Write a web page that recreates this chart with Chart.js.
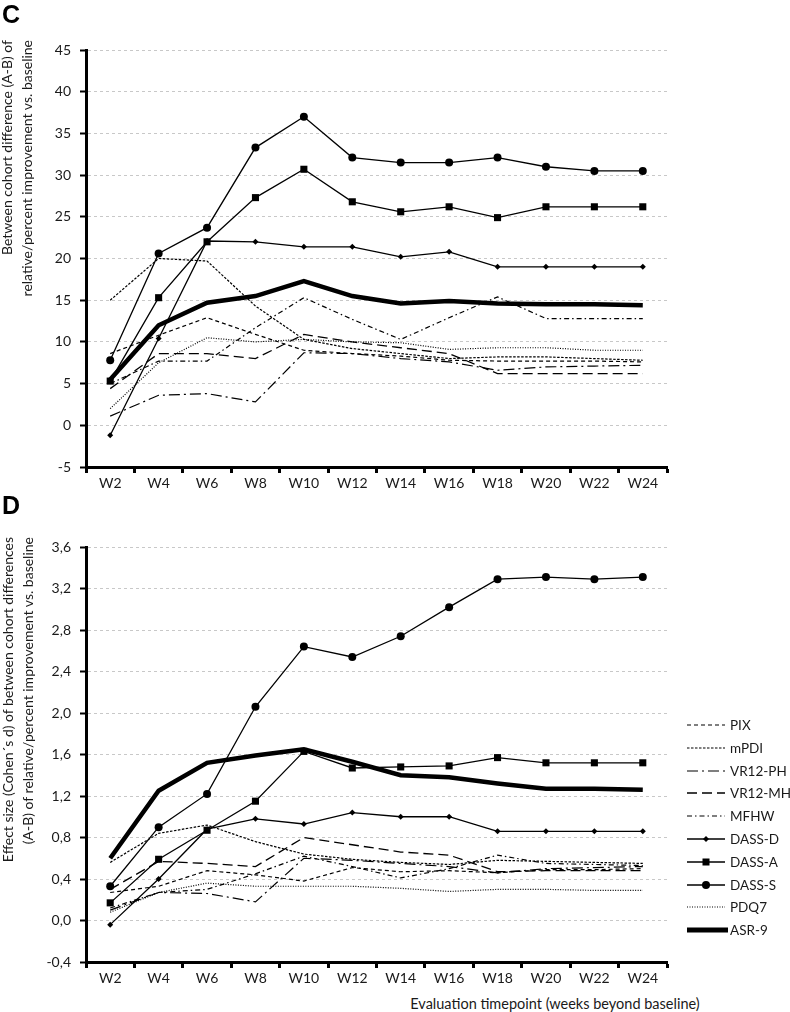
<!DOCTYPE html>
<html><head><meta charset="utf-8">
<script src="https://cdn.jsdelivr.net/npm/chart.js@4.4.0/dist/chart.umd.min.js"></script>
<style>
html,body{margin:0;padding:0;background:#fff;}
body{width:790px;height:1012px;position:relative;overflow:hidden;font-family:Lato,'Open Sans',sans-serif;color:#1a1a1a;}
.panel{position:absolute;left:0;width:790px;height:495px;}
canvas{position:absolute;left:0;top:0;}
.lab{position:absolute;left:2px;font:bold 25px 'Liberation Sans',Arial,sans-serif;color:#000;line-height:25px;}
.ytitle{position:absolute;width:420px;transform-origin:0 0;transform:rotate(-90deg);white-space:nowrap;font-size:14px;line-height:20px;text-align:right;}
.xtitle{position:absolute;left:355px;width:400px;text-align:center;font-size:14.5px;top:995px;line-height:18px;}
.leg{position:absolute;left:686px;height:20px;line-height:20px;font-size:13.5px;white-space:nowrap;}
.leg svg{position:absolute;left:0;top:3px;}
.leg span{position:absolute;left:44px;top:0;}
</style>
</head><body>
<div class="panel" style="top:0"><canvas id="chartC" width="790" height="495"></canvas></div>
<div class="panel" style="top:495px"><canvas id="chartD" width="790" height="495"></canvas></div>
<div class="lab" style="top:2px">C</div>
<div class="lab" style="top:493px">D</div>
<div class="ytitle" style="left:-3px;top:460px">Between cohort difference (A-B) of<br>relative/percent improvement vs. baseline</div>
<div class="ytitle" style="left:-2px;top:957px">Effect size (Cohen´s d) of between cohort differences<br>(A-B) of relative/percent improvement vs. baseline</div>
<div class="xtitle">Evaluation timepoint (weeks beyond baseline)</div>
<div id="legend"></div>
<script>
// ---- data ----
const weeks = ['W2','W4','W6','W8','W10','W12','W14','W16','W18','W20','W22','W24'];
const seriesNames = ['PIX','mPDI','VR12-PH','VR12-MH','MFHW','DASS-D','DASS-A','DASS-S','PDQ7','ASR-9'];
const yTickLabelsC = ['-5','0','5','10','15','20','25','30','35','40','45'];
const yTickLabelsD = ['-0,4','0,0','0,4','0,8','1,2','1,6','2,0','2,4','2,8','3,2','3,6'];

// Panel C: between cohort difference (%)
const pixC    = [8.6, 10.8, 12.9, 10.9, 9.0, 8.6, 8.3, 7.8, 7.7, 7.7, 7.7, 7.6];
const mpdiC   = [15.0, 20.0, 19.7, 14.3, 10.3, 9.2, 8.6, 8.0, 8.2, 8.2, 8.0, 7.8];
const vr12phC = [1.1, 3.6, 3.8, 2.8, 8.7, 8.6, 8.0, 7.6, 6.6, 7.0, 7.1, 7.2];
const vr12mhC = [4.4, 8.6, 8.6, 8.0, 10.9, 10.0, 9.3, 8.6, 6.2, 6.2, 6.2, 6.2];
const mfhwC   = [5.0, 7.7, 7.7, 11.7, 15.3, 12.7, 10.3, 12.9, 15.4, 12.8, 12.8, 12.8];
const dassDC  = [-1.2, 10.4, 22.1, 22.0, 21.4, 21.4, 20.2, 20.8, 19.0, 19.0, 19.0, 19.0];
const dassAC  = [5.3, 15.3, 22.0, 27.3, 30.7, 26.8, 25.6, 26.2, 24.9, 26.2, 26.2, 26.2];
const dassSC  = [7.8, 20.6, 23.7, 33.3, 37.0, 32.1, 31.5, 31.5, 32.1, 31.0, 30.5, 30.5];
const pdq7C   = [2.0, 7.5, 10.5, 10.0, 10.3, 10.0, 9.9, 9.1, 9.3, 9.3, 9.0, 9.0];
const asr9C   = [5.5, 12.0, 14.7, 15.5, 17.3, 15.5, 14.6, 14.9, 14.6, 14.5, 14.5, 14.4];

// Panel D: effect size (Cohen's d)
const pixD    = [0.27, 0.33, 0.48, 0.44, 0.38, 0.51, 0.47, 0.48, 0.46, 0.49, 0.49, 0.50];
const mpdiD   = [0.56, 0.84, 0.92, 0.76, 0.64, 0.59, 0.56, 0.54, 0.58, 0.57, 0.56, 0.55];
const vr12phD = [0.10, 0.27, 0.26, 0.18, 0.60, 0.58, 0.55, 0.52, 0.46, 0.50, 0.51, 0.52];
const vr12mhD = [0.30, 0.57, 0.55, 0.52, 0.80, 0.73, 0.66, 0.63, 0.47, 0.48, 0.48, 0.48];
const mfhwD   = [0.12, 0.27, 0.30, 0.45, 0.62, 0.52, 0.41, 0.50, 0.63, 0.55, 0.54, 0.53];
const dassDD  = [-0.04, 0.40, 0.88, 0.98, 0.93, 1.04, 1.00, 1.00, 0.86, 0.86, 0.86, 0.86];
const dassAD  = [0.17, 0.59, 0.87, 1.15, 1.63, 1.47, 1.48, 1.49, 1.57, 1.52, 1.52, 1.52];
const dassSD  = [0.33, 0.90, 1.22, 2.06, 2.64, 2.54, 2.74, 3.02, 3.29, 3.31, 3.29, 3.31];
const pdq7D   = [0.08, 0.27, 0.36, 0.33, 0.33, 0.33, 0.31, 0.28, 0.30, 0.30, 0.29, 0.29];
const asr9D   = [0.60, 1.25, 1.52, 1.59, 1.65, 1.53, 1.40, 1.38, 1.32, 1.27, 1.27, 1.26];

const dataC = [pixC, mpdiC, vr12phC, vr12mhC, mfhwC, dassDC, dassAC, dassSC, pdq7C, asr9C];
const dataD = [pixD, mpdiD, vr12phD, vr12mhD, mfhwD, dassDD, dassAD, dassSD, pdq7D, asr9D];

// ---- styles ----
const styles = {
  'PIX':     {dash:[4,3], w:1.2},
  'mPDI':    {dash:[2.5,1.5], w:1.2},
  'VR12-PH': {dash:[11,4,2,4], w:1.2},
  'VR12-MH': {dash:[10,5], w:1.3},
  'MFHW':    {dash:[5,3,1.5,3], w:1.2},
  'DASS-D':  {dash:[], w:1.3, pt:'rectRot', r:3},
  'DASS-A':  {dash:[], w:1.3, pt:'rect', r:5},
  'DASS-S':  {dash:[], w:1.3, pt:'circle', r:4},
  'PDQ7':    {dash:[1,1.5], w:1.2},
  'ASR-9':   {dash:[], w:4.5}
};

Chart.defaults.font.family = "Lato, 'Open Sans', sans-serif";
Chart.defaults.font.size = 14;
Chart.defaults.color = '#1a1a1a';

function makeChart(id, series, tickLabels, topPad) {
  const tickVals = tickLabels.map(s => parseFloat(s.replace(',', '.')));
  const datasets = seriesNames.map((name, i) => {
    const st = styles[name];
    return {
      label: name, data: series[i],
      borderColor: '#000', backgroundColor: '#000',
      borderWidth: st.w, borderDash: st.dash,
      pointRadius: st.pt ? st.r : 0, pointHoverRadius: 0,
      pointStyle: st.pt || 'circle', pointBorderWidth: 0,
      pointBackgroundColor: '#000',
      tension: 0, fill: false,
      borderCapStyle: 'butt', borderJoinStyle: 'miter'
    };
  });
  return new Chart(document.getElementById(id), {
    type: 'line',
    data: {labels: weeks, datasets},
    options: {
      responsive: false, animation: false, devicePixelRatio: 1,
      layout: {padding: {left: 0, top: topPad, right: 123, bottom: 0}},
      plugins: {legend: {display: false}, tooltip: {enabled: false}},
      events: [],
      scales: {
        x: {
          offset: true,
          grid: {offset: true, drawOnChartArea: false, drawTicks: true, tickLength: 6, tickColor: '#000', tickWidth: 3},
          border: {display: true, color: '#000', width: 3},
          ticks: {padding: 2, maxRotation: 0, autoSkip: false, color: '#1a1a1a'},
          afterFit: s => { s.height = 28; }
        },
        y: {
          min: tickVals[0], max: tickVals[tickVals.length - 1],
          afterBuildTicks: s => { s.ticks = tickVals.map(v => ({value: v})); },
          ticks: {callback: (v, i) => tickLabels[i], padding: 9, color: '#1a1a1a'},
          grid: {color: '#c8c8c8', lineWidth: 1, tickLength: 6, tickColor: '#000', tickWidth: 2},
          border: {display: true, color: '#000', width: 3, dash: [3, 3]},
          afterFit: s => { s.width = 86; }
        }
      }
    }
  });
}

makeChart('chartC', dataC, yTickLabelsC, 50);
makeChart('chartD', dataD, yTickLabelsD, 52);

// ---- legend (HTML) ----
const legend = document.getElementById('legend');
seriesNames.forEach((name, i) => {
  const st = styles[name];
  const row = document.createElement('div');
  row.className = 'leg';
  row.style.top = (715 + i * 22.8) + 'px';
  let marker = '';
  if (st.pt === 'circle') marker = '<circle cx="20" cy="7" r="4" fill="#000"/>';
  if (st.pt === 'rect') marker = '<rect x="16.5" y="3.5" width="7" height="7" fill="#000"/>';
  if (st.pt === 'rectRot') marker = '<polygon points="20,4 23,7 20,10 17,7" fill="#000"/>';
  const len = name === 'ASR-9' ? 42 : 39;
  row.innerHTML = '<svg width="44" height="14"><line x1="1" y1="7" x2="' + len + '" y2="7" stroke="#000" stroke-width="' +
    (name === 'ASR-9' ? 5 : st.w) + '" stroke-dasharray="' + st.dash.join(',') + '"/>' + marker + '</svg><span>' + name + '</span>';
  legend.appendChild(row);
});
</script>
</body></html>
